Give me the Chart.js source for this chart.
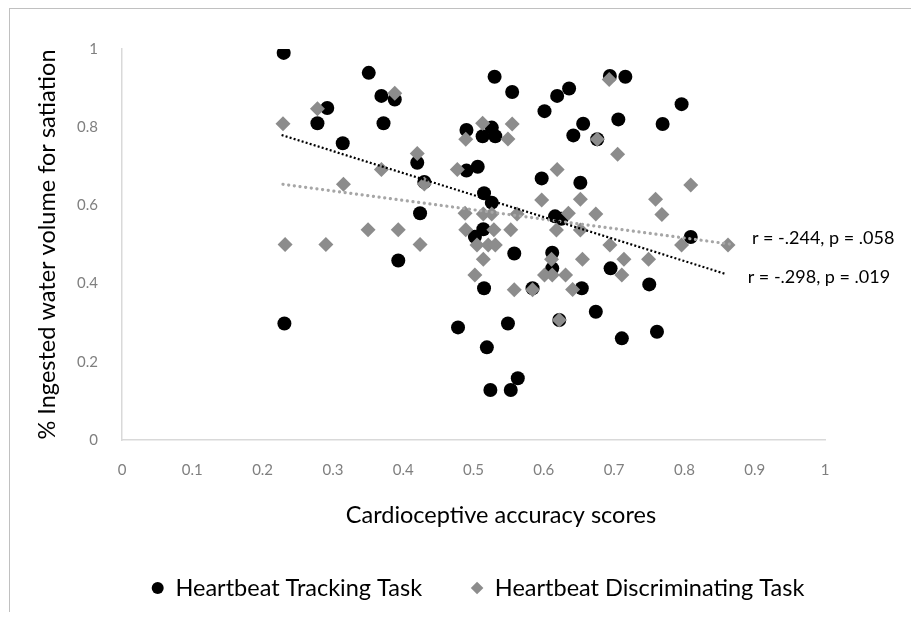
<!DOCTYPE html>
<html>
<head>
<meta charset="utf-8">
<script src="https://cdn.jsdelivr.net/npm/chart.js@4.4.1/dist/chart.umd.min.js"></script>
<style>
  html, body { margin: 0; padding: 0; background: #fff; }
  #wrap { position: relative; width: 911px; height: 622px; overflow: hidden; }
  #frame { position: absolute; left: 9px; top: 8px; width: 910px; height: 603px;
           border-top: 1px solid #c0c0c0; border-left: 1px solid #c0c0c0; }
  canvas { position: absolute; left: 0; top: 0; }
</style>
</head>
<body>
<div id="wrap">
  <div id="frame"></div>
  <canvas id="chart" width="911" height="622"></canvas>
</div>
<script>
// Heartbeat Tracking Task (black circles)
const trackingX = [0.230, 0.351, 0.369, 0.388, 0.292, 0.278, 0.372, 0.314, 0.420, 0.430,
                   0.424, 0.393, 0.231, 0.478, 0.530, 0.555, 0.619, 0.636, 0.694, 0.716,
                   0.601, 0.656, 0.706, 0.642, 0.676, 0.490, 0.526, 0.513, 0.531, 0.506,
                   0.490, 0.597, 0.652, 0.515, 0.526, 0.616, 0.625, 0.514, 0.502, 0.558,
                   0.612, 0.612, 0.695, 0.515, 0.584, 0.654, 0.674, 0.622, 0.549, 0.711,
                   0.519, 0.563, 0.524, 0.553, 0.796, 0.769, 0.809, 0.750, 0.761];
const trackingY = [0.990, 0.939, 0.880, 0.871, 0.849, 0.810, 0.810, 0.759, 0.709, 0.660,
                   0.580, 0.459, 0.298, 0.288, 0.929, 0.890, 0.880, 0.899, 0.931, 0.929,
                   0.841, 0.809, 0.820, 0.779, 0.769, 0.793, 0.799, 0.777, 0.777, 0.699,
                   0.689, 0.669, 0.658, 0.631, 0.607, 0.572, 0.566, 0.539, 0.520, 0.477,
                   0.479, 0.439, 0.439, 0.388, 0.388, 0.388, 0.328, 0.307, 0.298, 0.260,
                   0.237, 0.158, 0.128, 0.128, 0.859, 0.808, 0.519, 0.398, 0.277];

// Heartbeat Discriminating Task (grey diamonds)
const discrimX = [0.229, 0.278, 0.388, 0.420, 0.477, 0.369, 0.430, 0.315, 0.350, 0.393,
                  0.232, 0.290, 0.424, 0.513, 0.555, 0.549, 0.489, 0.676, 0.693, 0.705,
                  0.619, 0.597, 0.652, 0.488, 0.514, 0.526, 0.562, 0.635, 0.674, 0.489,
                  0.529, 0.553, 0.618, 0.652, 0.505, 0.521, 0.531, 0.694, 0.514, 0.611,
                  0.655, 0.714, 0.502, 0.601, 0.612, 0.631, 0.711, 0.558, 0.584, 0.641,
                  0.622, 0.809, 0.759, 0.768, 0.796, 0.862, 0.749];
const discrimY = [0.809, 0.847, 0.887, 0.733, 0.692, 0.692, 0.655, 0.654, 0.538, 0.538,
                  0.500, 0.500, 0.500, 0.810, 0.808, 0.770, 0.769, 0.769, 0.922, 0.731,
                  0.692, 0.614, 0.616, 0.580, 0.578, 0.578, 0.578, 0.580, 0.578, 0.538,
                  0.538, 0.538, 0.537, 0.537, 0.499, 0.499, 0.499, 0.499, 0.462, 0.462,
                  0.462, 0.462, 0.422, 0.422, 0.422, 0.422, 0.422, 0.384, 0.384, 0.385,
                  0.307, 0.652, 0.616, 0.577, 0.499, 0.499, 0.462];

// linear trend lines (end points)
const trendTrackingX = [0.227, 0.858];
const trendTrackingY = [0.780, 0.425];
const trendDiscrimX = [0.229, 0.865];
const trendDiscrimY = [0.654, 0.501];

const seriesNames = ['Heartbeat Tracking Task', 'Heartbeat Discriminating Task'];
const statLabels = ['r = -.298, p = .019', 'r = -.244, p = .058'];
const xTickLabels = ['0', '0.1', '0.2', '0.3', '0.4', '0.5', '0.6', '0.7', '0.8', '0.9', '1'];
const yTickLabels = ['0', '0.2', '0.4', '0.6', '0.8', '1'];
const xTitle = 'Cardioceptive accuracy scores';
const yTitle = '% Ingested water volume for satiation';

function toPoints(xs, ys) {
  return xs.map((x, i) => ({ x: x, y: ys[i] }));
}

// stat labels, x axis title and the legend row under it
const extras = {
  id: 'extras',
  afterDraw(chart) {
    const { ctx, scales: { x, y } } = chart;
    ctx.save();
    ctx.fillStyle = '#000';
    ctx.textBaseline = 'middle';
    ctx.textAlign = 'left';
    ctx.font = '18px Lato';
    ctx.fillText(statLabels[1], x.getPixelForValue(0.896), y.getPixelForValue(0.517));
    ctx.fillText(statLabels[0], x.getPixelForValue(0.890), y.getPixelForValue(0.417));

    ctx.textAlign = 'center';
    ctx.font = '23.5px Lato';
    ctx.fillText(xTitle, x.getPixelForValue(0.539), 515);

    // legend: marker, gap, text ... centred under the plot
    const legendY = 588, box = 12, gap = 11.75, itemGap = 49;
    ctx.textAlign = 'left';
    const widths = seriesNames.map(t => box + gap + ctx.measureText(t).width);
    let lx = 478 - (widths[0] + itemGap + widths[1]) / 2;
    seriesNames.forEach((name, i) => {
      const ds = chart.data.datasets[i];
      const cx = lx + box / 2;
      ctx.fillStyle = ds.backgroundColor;
      ctx.beginPath();
      if (ds.pointStyle === 'circle') {
        ctx.arc(cx, legendY, 6, 0, Math.PI * 2);
      } else {
        ctx.moveTo(cx, legendY - 6.3);
        ctx.lineTo(cx + 6.3, legendY);
        ctx.lineTo(cx, legendY + 6.3);
        ctx.lineTo(cx - 6.3, legendY);
        ctx.closePath();
      }
      ctx.fill();
      ctx.fillStyle = '#000';
      ctx.fillText(name, lx + box + gap, legendY);
      lx += widths[i] + itemGap;
    });
    ctx.restore();
  }
};

const ctx = document.getElementById('chart').getContext('2d');
new Chart(ctx, {
  type: 'scatter',
  data: {
    datasets: [{
      label: seriesNames[0],
      data: toPoints(trackingX, trackingY),
      pointStyle: 'circle',
      pointRadius: 7,
      backgroundColor: '#000',
      borderWidth: 0,
      order: 3
    }, {
      label: seriesNames[1],
      data: toPoints(discrimX, discrimY),
      pointStyle: 'rectRot',
      pointRadius: 7.5,
      backgroundColor: '#8c8c8c',
      borderWidth: 0,
      order: 2
    }, {
      label: 'trend tracking',
      data: toPoints(trendTrackingX, trendTrackingY),
      showLine: true,
      pointRadius: 0,
      borderColor: '#000',
      borderWidth: 2.2,
      borderDash: [2, 2.2],
      fill: false,
      order: 1
    }, {
      label: 'trend discriminating',
      data: toPoints(trendDiscrimX, trendDiscrimY),
      showLine: true,
      pointRadius: 0,
      borderColor: '#a6a6a6',
      borderWidth: 3.2,
      borderDash: [0.1, 5.6],
      borderCapStyle: 'round',
      fill: false,
      order: 1
    }]
  },
  options: {
    responsive: false,
    animation: false,
    events: [],
    layout: { padding: { top: 49, right: 86, left: 9, bottom: 92 } },
    plugins: {
      tooltip: { enabled: false },
      legend: { display: false }
    },
    scales: {
      x: {
        type: 'linear',
        min: 0,
        max: 1,
        ticks: {
          stepSize: 0.1,
          callback: (v, i) => xTickLabels[i],
          color: '#7f7f7f',
          font: { family: 'Lato', size: 15 },
          padding: 13,
          maxRotation: 0,
          autoSkip: false
        },
        grid: { display: false },
        border: { color: '#d9d9d9', width: 1.5 },
        afterFit: s => { s.height = 90; }
      },
      y: {
        type: 'linear',
        min: 0,
        max: 1,
        ticks: {
          stepSize: 0.2,
          callback: (v, i) => yTickLabels[i],
          color: '#7f7f7f',
          font: { family: 'Lato', size: 15 },
          padding: 16
        },
        grid: { display: false },
        border: { color: '#d9d9d9', width: 1.5 },
        title: {
          display: true,
          text: yTitle,
          color: '#000',
          font: { family: 'Lato', size: 23.5 },
          padding: { top: 24, bottom: 0 }
        },
        afterFit: s => { s.width = 113; }
      }
    }
  },
  plugins: [extras]
});
</script>
</body>
</html>
